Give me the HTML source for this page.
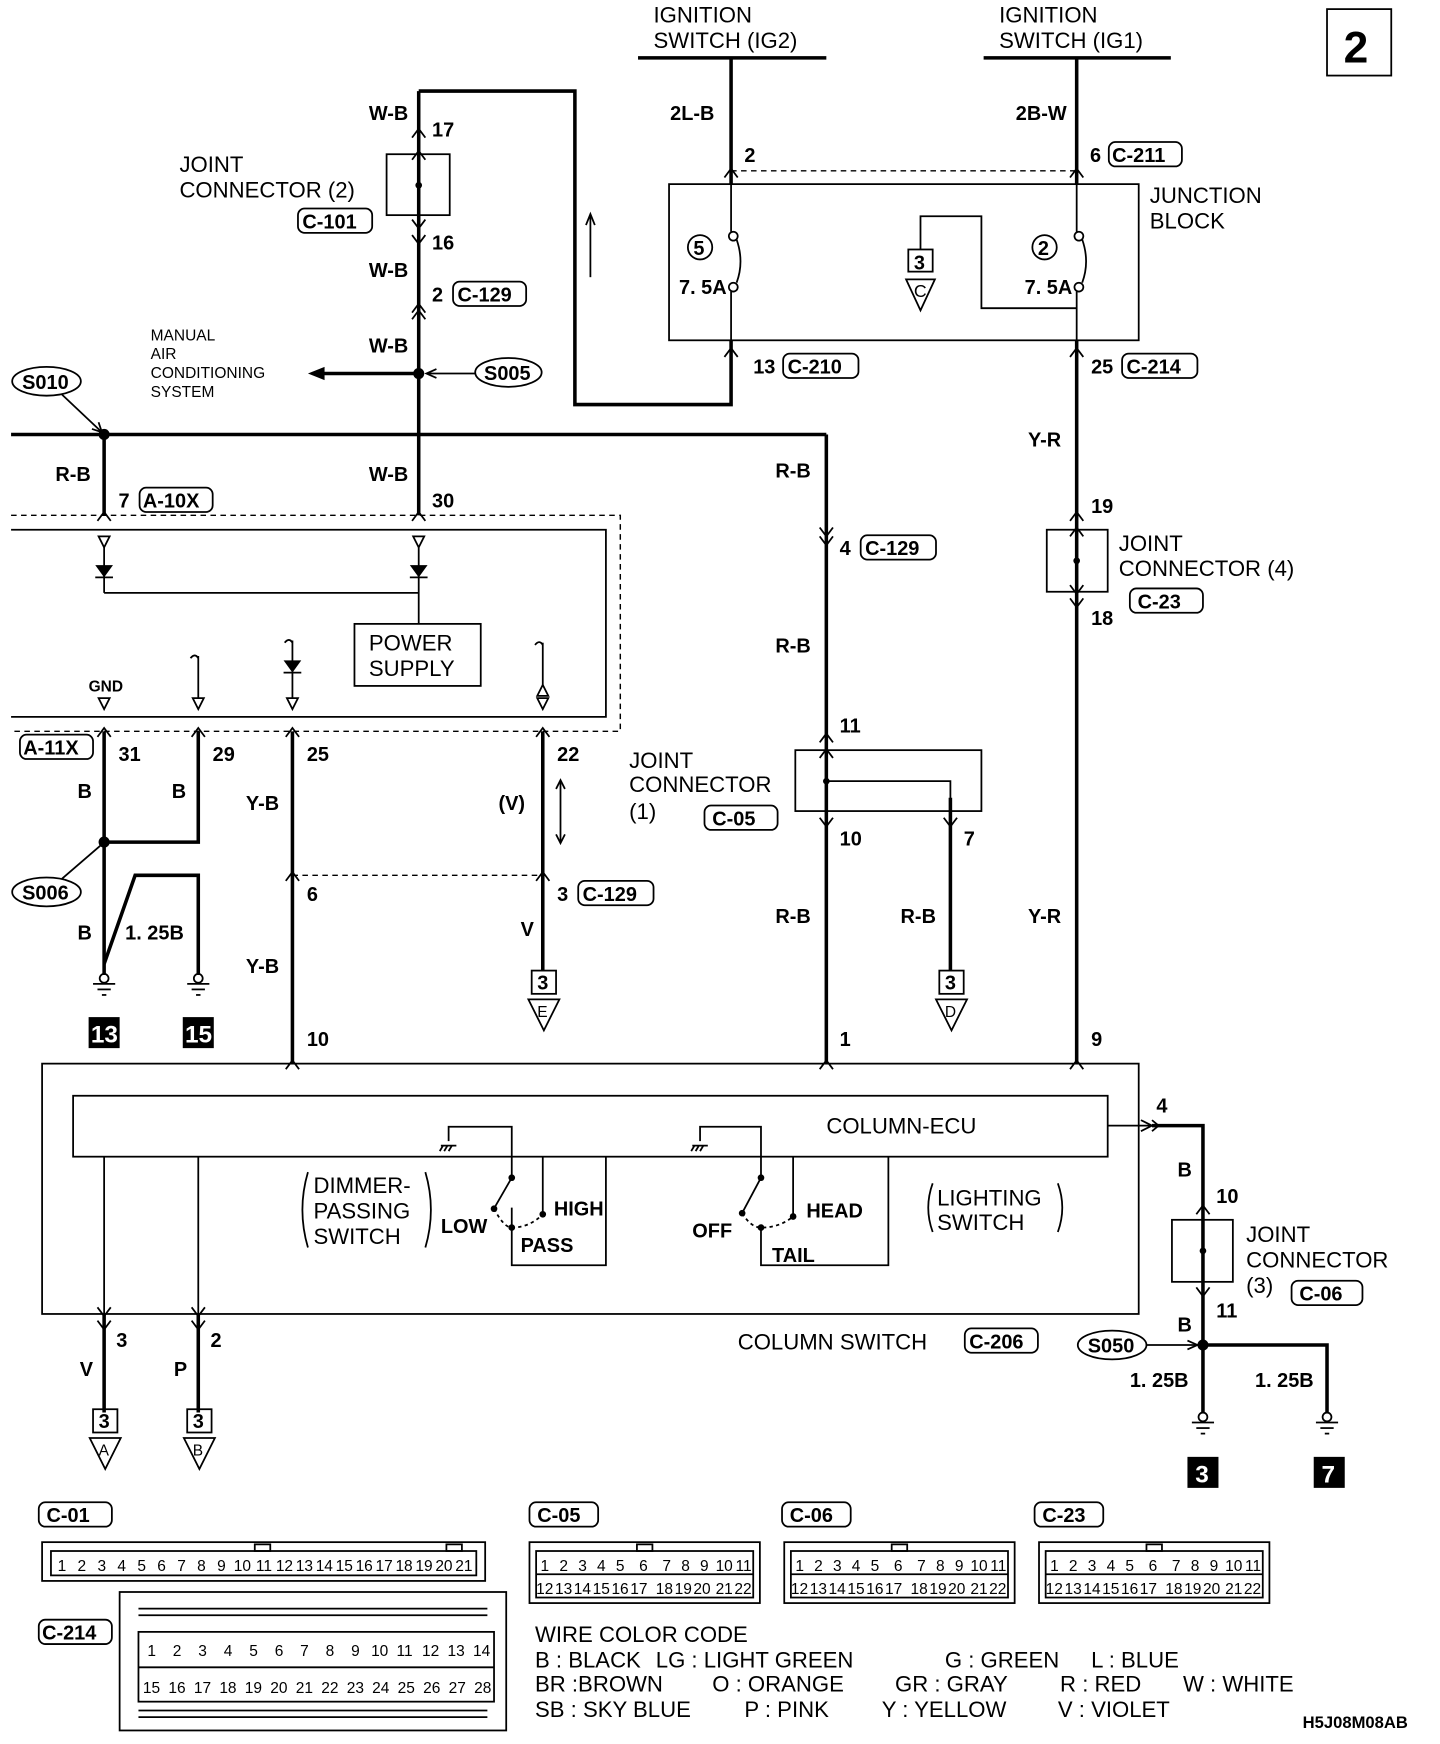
<!DOCTYPE html>
<html><head><meta charset="utf-8"><style>
html,body{margin:0;padding:0;background:#fff}
svg{display:block}
text{font-family:"Liberation Sans",sans-serif;fill:#000}
.t{font-size:20px}
.b{font-size:18px;font-weight:bold}
.s{font-size:16px}
.w{stroke:#000;stroke-width:3.2;fill:none}
.l{stroke:#000;stroke-width:1.6;fill:none}
.d{stroke:#000;stroke-width:1.3;fill:none;stroke-dasharray:5 4}
.c{font-size:14px}
</style></head><body>
<svg width="1440" height="1744" viewBox="0 0 1300 1574" xmlns="http://www.w3.org/2000/svg">
<text class="t" x="590" y="20">IGNITION</text><text class="t" x="590" y="43">SWITCH (IG2)</text>
<line x1="576" y1="52" x2="746" y2="52" class="w"/>
<text class="t" x="902" y="20">IGNITION</text><text class="t" x="902" y="43">SWITCH (IG1)</text>
<line x1="888" y1="52" x2="1057" y2="52" class="w"/>
<rect x="1198" y="8" width="58" height="60" class="l" stroke-width="2"/>
<text x="1213" y="56" style="font-size:40px;font-weight:bold">2</text>

<polyline points="378,82 519,82 519,365 660,365 660,307" class="w"/>
<line x1="660" y1="52" x2="660" y2="166" class="w"/>
<line x1="533" y1="250" x2="533" y2="195" class="l"/><path d="M529,203 L533,193 L537,203" class="l"/>
<text class="b" x="605" y="108">2L-B</text>
<text class="b" x="672" y="146">2</text>
<text class="b" x="917" y="108">2B-W</text>
<text class="b" x="984" y="146">6</text>
<rect x="1001" y="128" width="66" height="22" rx="6" class="l"/><text class="b" x="1004" y="146">C-211</text>
<line x1="660" y1="154" x2="972" y2="154" class="d"/>
<rect x="604" y="166" width="424" height="141" class="l"/>
<text class="t" x="1038" y="183">JUNCTION</text><text class="t" x="1038" y="206">BLOCK</text>
<circle cx="632" cy="223" r="11" class="l"/><text class="b" x="626" y="230">5</text>
<circle cx="943" cy="223" r="11" class="l"/><text class="b" x="937" y="230">2</text>
<g class="l">
<line x1="660" y1="166" x2="660" y2="209"/><circle cx="662" cy="213" r="4"/><path d="M665,216 Q672,236 665,255"/><circle cx="662" cy="259" r="4"/><line x1="660" y1="263" x2="660" y2="307"/>
<line x1="972" y1="166" x2="972" y2="209"/><circle cx="974" cy="213" r="4"/><path d="M977,216 Q984,236 977,255"/><circle cx="974" cy="259" r="4"/><line x1="972" y1="263" x2="972" y2="307"/>
</g>
<text class="b" x="613" y="265">7. 5A</text><text class="b" x="925" y="265">7. 5A</text>
<rect x="820" y="225" width="22" height="20" class="l"/><text class="b" x="825" y="243">3</text>
<path d="M818,252 L844,252 L831,280 Z" class="l"/><text class="s" x="825" y="268">C</text>
<polyline points="831,225 831,195 886,195 886,278 972,278" class="l"/>
<path d="M654,160 L660,152 L666,160 M966,160 L972,152 L978,160 M654,322 L660,314 L666,322 M966,322 L972,314 L978,322" class="l"/>
<text class="b" x="680" y="337">13</text><rect x="707" y="319" width="68" height="22" rx="6" class="l"/><text class="b" x="711" y="337">C-210</text>
<text class="b" x="985" y="337">25</text><rect x="1013" y="319" width="68" height="22" rx="6" class="l"/><text class="b" x="1017" y="337">C-214</text>

<line x1="972" y1="52" x2="972" y2="166" class="w"/>
<line x1="972" y1="307" x2="972" y2="960" class="w"/>
<text class="b" x="928" y="403">Y-R</text>
<text class="b" x="985" y="463">19</text>
<rect x="945" y="478" width="55" height="56" class="l"/>
<circle cx="972" cy="506" r="3"/>
<path d="M966,470 L972,462 L978,470 M966,484 L972,476 L978,484 M966,540 L972,548 L978,540 M966,528 L972,536 L978,528" class="l"/>
<text class="t" x="1010" y="497">JOINT</text><text class="t" x="1010" y="520">CONNECTOR (4)</text>
<rect x="1020" y="531" width="66" height="22" rx="6" class="l"/><text class="b" x="1027" y="549">C-23</text>
<text class="b" x="985" y="564">18</text>
<text class="b" x="928" y="833">Y-R</text>
<text class="b" x="985" y="944">9</text>

<line x1="378" y1="82" x2="378" y2="465" class="w"/>
<text class="b" x="333" y="108">W-B</text>
<text class="b" x="390" y="123">17</text>
<rect x="349" y="139" width="57" height="55" class="l"/><circle cx="378" cy="167" r="3"/>
<text class="t" x="162" y="155">JOINT</text><text class="t" x="162" y="178">CONNECTOR (2)</text>
<rect x="269" y="188" width="67" height="22" rx="6" class="l"/><text class="b" x="273" y="206">C-101</text>
<text class="b" x="390" y="225">16</text>
<text class="b" x="333" y="250">W-B</text>
<text class="b" x="390" y="272">2</text><rect x="409" y="254" width="66" height="22" rx="6" class="l"/><text class="b" x="413" y="272">C-129</text>
<text class="b" x="333" y="318">W-B</text>
<circle cx="378" cy="337" r="5"/>
<line x1="378" y1="337" x2="290" y2="337" class="w" stroke-width="4"/><path d="M278,337 L293,331 L293,343 Z"/>
<text class="c" x="136" y="307">MANUAL</text><text class="c" x="136" y="324">AIR</text><text class="c" x="136" y="341">CONDITIONING</text><text class="c" x="136" y="358">SYSTEM</text>
<ellipse cx="459" cy="336" rx="30" ry="13" class="l" stroke-width="2"/><text class="b" x="437" y="343">S005</text>
<line x1="429" y1="337" x2="386" y2="337" class="l"/><path d="M394,333 L385,337 L394,341" class="l"/>
<line x1="10" y1="392" x2="746" y2="392" class="w"/>
<line x1="746" y1="392" x2="746" y2="960" class="w"/>
<circle cx="94" cy="392" r="5"/>
<ellipse cx="42" cy="344" rx="31" ry="13" class="l" stroke-width="2"/><text class="b" x="20" y="351">S010</text>
<line x1="56" y1="356" x2="92" y2="390" class="l"/><path d="M83,387 L92,390 L89,381" class="l"/>
<line x1="94" y1="392" x2="94" y2="465" class="w"/>
<text class="b" x="50" y="434">R-B</text>
<text class="b" x="107" y="458">7</text><rect x="126" y="440" width="66" height="22" rx="6" class="l"/><text class="b" x="129" y="458">A-10X</text>
<text class="b" x="333" y="434">W-B</text><text class="b" x="390" y="458">30</text>
<path d="M88,470 L94,462 L100,470 M372,470 L378,462 L384,470 M372,124 L378,116 L384,124 M372,144 L378,136 L384,144 M372,198 L378,206 L384,198 M372,212 L378,220 L384,212 M372,282 L378,274 L384,282 M372,288 L378,280 L384,288" class="l"/>

<polyline points="10,465 560,465 560,660 10,660" class="d"/>
<polyline points="10,478 547,478 547,647 10,647" class="l"/>
<path d="M89,484 L99,484 L94,494 Z M373,484 L383,484 L378,494 Z" class="l"/>
<line x1="94" y1="494" x2="94" y2="535" class="l"/><line x1="378" y1="494" x2="378" y2="563" class="l"/>
<path d="M86,510 L102,510 L94,521 Z M370,510 L386,510 L378,521 Z"/>
<line x1="86" y1="521" x2="102" y2="521" class="l"/><line x1="370" y1="521" x2="386" y2="521" class="l"/>
<line x1="94" y1="535" x2="378" y2="535" class="l"/>
<rect x="320" y="563" width="114" height="56" class="l"/>
<text class="t" x="333" y="587">POWER</text><text class="t" x="333" y="610">SUPPLY</text>
<text class="c" x="80" y="624" font-weight="bold">GND</text>
<path d="M89,630 L99,630 L94,640 Z M174,630 L184,630 L179,640 Z M259,630 L269,630 L264,640 Z M485,630 L495,630 L490,640 Z M485,628 L495,628 L490,618 Z" class="l"/>
<line x1="179" y1="592" x2="179" y2="630" class="l"/><line x1="264" y1="578" x2="264" y2="630" class="l"/><line x1="490" y1="580" x2="490" y2="618" class="l"/>
<path d="M172,594 q4,-5 7,0 M257,580 q4,-5 7,0 M483,582 q4,-5 7,0" class="l"/>
<path d="M256,596 L272,596 L264,607 Z"/><line x1="256" y1="607" x2="272" y2="607" class="l"/>
<rect x="18" y="663" width="66" height="22" rx="6" class="l"/><text class="b" x="21" y="681">A-11X</text>
<text class="b" x="107" y="687">31</text><text class="b" x="192" y="687">29</text><text class="b" x="277" y="687">25</text><text class="b" x="503" y="687">22</text>
<path d="M88,665 L94,657 L100,665 M173,665 L179,657 L185,665 M258,665 L264,657 L270,665 M484,665 L490,657 L496,665" class="l"/>
<polyline points="94,660 94,880" class="w"/>
<polyline points="179,660 179,760 94,760" class="w"/>
<polyline points="94,870 122,790 179,790 179,880" class="w"/>
<circle cx="94" cy="760" r="5"/>
<text class="b" x="70" y="720">B</text><text class="b" x="155" y="720">B</text>
<ellipse cx="42" cy="805" rx="31" ry="13" class="l" stroke-width="2"/><text class="b" x="20" y="812">S006</text>
<line x1="56" y1="793" x2="92" y2="762" class="l"/>
<text class="b" x="70" y="848">B</text><text class="b" x="113" y="848">1. 25B</text>
<g class="l"><circle cx="94" cy="883" r="4"/><line x1="84" y1="888" x2="104" y2="888"/><line x1="88" y1="893" x2="100" y2="893"/><line x1="92" y1="898" x2="96" y2="898"/>
<circle cx="179" cy="883" r="4"/><line x1="169" y1="888" x2="189" y2="888"/><line x1="173" y1="893" x2="185" y2="893"/><line x1="177" y1="898" x2="181" y2="898"/></g>
<rect x="80" y="918" width="28" height="28"/><text x="82" y="941" style="font-size:22px;font-weight:bold;fill:#fff">13</text>
<rect x="165" y="918" width="28" height="28"/><text x="167" y="941" style="font-size:22px;font-weight:bold;fill:#fff">15</text>
<line x1="264" y1="660" x2="264" y2="960" class="w"/>
<text class="b" x="222" y="731">Y-B</text><text class="b" x="222" y="878">Y-B</text>
<text class="b" x="277" y="813">6</text><text class="b" x="277" y="944">10</text>
<line x1="264" y1="790" x2="490" y2="790" class="d"/>
<line x1="490" y1="660" x2="490" y2="876" class="w"/>
<text class="b" x="450" y="731">(V)</text>
<line x1="506" y1="705" x2="506" y2="760" class="l"/><path d="M502,712 L506,704 L510,712 M502,753 L506,761 L510,753" class="l"/>
<text class="b" x="503" y="813">3</text><rect x="522" y="795" width="68" height="22" rx="6" class="l"/><text class="b" x="526" y="813">C-129</text>
<text class="b" x="470" y="845">V</text>
<rect x="480" y="876" width="22" height="21" class="l" stroke-width="2"/><text class="b" x="485" y="893">3</text>
<path d="M477,902 L505,902 L491,930 Z" class="l"/><text class="c" x="485" y="918">E</text>
<path d="M258,795 L264,787 L270,795 M484,795 L490,787 L496,795 M258,965 L264,957 L270,965 M740,965 L746,957 L752,965 M966,965 L972,957 L978,965" class="l"/>
<text class="b" x="700" y="431">R-B</text>
<text class="b" x="758" y="501">4</text><rect x="777" y="483" width="68" height="22" rx="6" class="l"/><text class="b" x="781" y="501">C-129</text>
<path d="M740,476 L746,484 L752,476 M740,484 L746,492 L752,484" class="l"/>
<text class="b" x="700" y="589">R-B</text>
<text class="b" x="758" y="661">11</text>
<rect x="718" y="677" width="168" height="55" class="l"/>
<polyline points="746,705 858,705 858,876" class="l"/><line x1="858" y1="720" x2="858" y2="876" class="w"/>
<circle cx="746" cy="705" r="3"/>
<path d="M740,670 L746,662 L752,670 M740,684 L746,676 L752,684 M740,738 L746,746 L752,738 M852,738 L858,746 L864,738" class="l"/>
<text class="t" x="568" y="693">JOINT</text><text class="t" x="568" y="715">CONNECTOR</text><text class="t" x="568" y="739">(1)</text>
<rect x="636" y="727" width="66" height="22" rx="6" class="l"/><text class="b" x="643" y="745">C-05</text>
<text class="b" x="758" y="763">10</text><text class="b" x="870" y="763">7</text>
<text class="b" x="700" y="833">R-B</text><text class="b" x="813" y="833">R-B</text>
<rect x="848" y="876" width="22" height="21" class="l" stroke-width="2"/><text class="b" x="853" y="893">3</text>
<path d="M845,902 L873,902 L859,930 Z" class="l"/><text class="c" x="853" y="918">D</text>
<text class="b" x="758" y="944">1</text>

<rect x="38" y="960" width="990" height="226" class="l"/>
<rect x="66" y="989" width="934" height="55" class="l"/>
<text class="t" x="746" y="1023">COLUMN-ECU</text>
<line x1="94" y1="1044" x2="94" y2="1275" class="l"/><line x1="179" y1="1044" x2="179" y2="1275" class="l"/>
<line x1="94" y1="1186" x2="94" y2="1275" class="w"/><line x1="179" y1="1186" x2="179" y2="1275" class="w"/>
<path d="M88,1192 L94,1200 L100,1192 M173,1192 L179,1200 L185,1192 M88,1180 L94,1188 L100,1180 M173,1180 L179,1188 L185,1180" class="l"/>
<text class="b" x="105" y="1216">3</text><text class="b" x="190" y="1216">2</text>
<text class="b" x="72" y="1242">V</text><text class="b" x="157" y="1242">P</text>
<rect x="84" y="1272" width="22" height="21" class="l" stroke-width="2"/><text class="b" x="89" y="1289">3</text>
<path d="M81,1298 L109,1298 L95,1326 Z" class="l"/><text class="c" x="89" y="1314">A</text>
<rect x="169" y="1272" width="22" height="21" class="l" stroke-width="2"/><text class="b" x="174" y="1289">3</text>
<path d="M166,1298 L194,1298 L180,1326 Z" class="l"/><text class="c" x="174" y="1314">B</text>
<!-- dimmer switch -->
<polyline points="405,1030 405,1017 462,1017 462,1063" class="l"/>
<path d="M398,1034 L412,1034 M400,1034 L397,1039 M404,1034 L401,1039 M408,1034 L405,1039" class="l"/>
<polyline points="490,1044 490,1096" class="l"/>
<polyline points="462,1090 462,1142 547,1142 547,1044" class="l"/>
<line x1="462" y1="1063" x2="447" y2="1089" class="l" stroke-width="2"/>
<circle cx="462" cy="1063" r="3"/><circle cx="446" cy="1091" r="3"/><circle cx="462" cy="1108" r="3"/><circle cx="490" cy="1096" r="3"/>
<path d="M446,1091 Q455,1108 462,1108 Q478,1108 490,1096" class="l" stroke-dasharray="3 3"/>
<text class="t" x="283" y="1077">DIMMER-</text><text class="t" x="283" y="1100">PASSING</text><text class="t" x="283" y="1123">SWITCH</text>
<path d="M278,1058 Q268,1092 278,1126 M384,1058 Q394,1092 384,1126" class="l"/>
<text class="b" x="398" y="1113">LOW</text><text class="b" x="500" y="1097">HIGH</text><text class="b" x="470" y="1130">PASS</text>
<!-- lighting switch -->
<polyline points="632,1030 632,1017 687,1017 687,1063" class="l"/>
<path d="M625,1034 L639,1034 M627,1034 L624,1039 M631,1034 L628,1039 M635,1034 L632,1039" class="l"/>
<line x1="716" y1="1044" x2="716" y2="1098" class="l"/>
<polyline points="687,1108 687,1142 802,1142 802,1044" class="l"/>
<line x1="687" y1="1063" x2="671" y2="1093" class="l" stroke-width="2"/>
<circle cx="687" cy="1063" r="3"/><circle cx="670" cy="1095" r="3"/><circle cx="687" cy="1108" r="3"/><circle cx="716" cy="1098" r="3"/>
<path d="M670,1095 Q678,1108 687,1108 Q704,1108 716,1098" class="l" stroke-dasharray="3 3"/>
<text class="b" x="625" y="1117">OFF</text><text class="b" x="728" y="1099">HEAD</text><text class="b" x="697" y="1139">TAIL</text>
<path d="M842,1068 Q834,1090 842,1112 M955,1068 Q963,1090 955,1112" class="l"/>
<text class="t" x="846" y="1088">LIGHTING</text><text class="t" x="846" y="1110">SWITCH</text>
<text class="t" x="666" y="1218">COLUMN SWITCH</text>
<rect x="871" y="1199" width="66" height="22" rx="6" class="l"/><text class="b" x="875" y="1217">C-206</text>
<line x1="1000" y1="1016" x2="1040" y2="1016" class="l"/><path d="M1030,1011 L1040,1016 L1030,1021" class="l"/>
<polyline points="1040,1016 1086,1016 1086,1275" class="w"/>
<path d="M1040,1011 L1046,1016 L1040,1021" class="l"/>
<text class="b" x="1044" y="1004">4</text>
<text class="b" x="1063" y="1062">B</text>
<text class="b" x="1098" y="1086">10</text>
<rect x="1058" y="1101" width="55" height="56" class="l"/><circle cx="1086" cy="1129" r="3"/>
<path d="M1080,1096 L1086,1088 L1092,1096 M1080,1162 L1086,1170 L1092,1162" class="l"/>
<text class="t" x="1125" y="1121">JOINT</text><text class="t" x="1125" y="1144">CONNECTOR</text><text class="t" x="1125" y="1167">(3)</text>
<rect x="1166" y="1156" width="64" height="22" rx="6" class="l"/><text class="b" x="1173" y="1174">C-06</text>
<text class="b" x="1098" y="1189">11</text><text class="b" x="1063" y="1202">B</text>
<circle cx="1086" cy="1214" r="5"/>
<polyline points="1086,1214 1198,1214 1198,1275" class="w"/>
<ellipse cx="1004" cy="1214" rx="31" ry="13" class="l" stroke-width="2"/><text class="b" x="982" y="1221">S050</text>
<line x1="1035" y1="1214" x2="1080" y2="1214" class="l"/><path d="M1072,1210 L1081,1214 L1072,1218" class="l"/>
<text class="b" x="1020" y="1252">1. 25B</text><text class="b" x="1133" y="1252">1. 25B</text>
<g class="l"><circle cx="1086" cy="1279" r="4"/><line x1="1076" y1="1284" x2="1096" y2="1284"/><line x1="1080" y1="1289" x2="1092" y2="1289"/><line x1="1084" y1="1294" x2="1088" y2="1294"/>
<circle cx="1198" cy="1279" r="4"/><line x1="1188" y1="1284" x2="1208" y2="1284"/><line x1="1192" y1="1289" x2="1204" y2="1289"/><line x1="1196" y1="1294" x2="1200" y2="1294"/></g>
<rect x="1072" y="1315" width="28" height="28"/><text x="1079" y="1338" style="font-size:22px;font-weight:bold;fill:#fff">3</text>
<rect x="1186" y="1315" width="28" height="28"/><text x="1193" y="1338" style="font-size:22px;font-weight:bold;fill:#fff">7</text>

<rect x="35" y="1356" width="66" height="22" rx="6" class="l"/><text class="b" x="42" y="1374">C-01</text>
<rect x="38" y="1392" width="400" height="35" class="l" stroke-width="2"/>
<rect x="46" y="1400" width="384" height="22" class="l"/>
<g class="c">
<text x="52" y="1418">1</text><text x="70" y="1418">2</text><text x="88" y="1418">3</text><text x="106" y="1418">4</text><text x="124" y="1418">5</text><text x="142" y="1418">6</text><text x="160" y="1418">7</text><text x="178" y="1418">8</text><text x="196" y="1418">9</text><text x="211" y="1418">10</text><text x="231" y="1418">11</text><text x="249" y="1418">12</text><text x="267" y="1418">13</text><text x="285" y="1418">14</text><text x="303" y="1418">15</text><text x="321" y="1418">16</text><text x="339" y="1418">17</text><text x="357" y="1418">18</text><text x="375" y="1418">19</text><text x="393" y="1418">20</text><text x="411" y="1418">21</text>
</g>
<rect x="230" y="1394" width="14" height="6" class="l"/><rect x="403" y="1394" width="14" height="6" class="l"/>
<rect x="35" y="1462" width="66" height="22" rx="6" class="l"/><text class="b" x="38" y="1480">C-214</text>
<rect x="108" y="1437" width="349" height="125" class="l" stroke-width="2"/>
<rect x="125" y="1473" width="321" height="63" class="l"/>
<line x1="125" y1="1505" x2="446" y2="1505" class="l"/>
<g class="c">
<text x="133" y="1495">1</text><text x="156" y="1495">2</text><text x="179" y="1495">3</text><text x="202" y="1495">4</text><text x="225" y="1495">5</text><text x="248" y="1495">6</text><text x="271" y="1495">7</text><text x="294" y="1495">8</text><text x="317" y="1495">9</text><text x="335" y="1495">10</text><text x="358" y="1495">11</text><text x="381" y="1495">12</text><text x="404" y="1495">13</text><text x="427" y="1495">14</text>
<text x="129" y="1528">15</text><text x="152" y="1528">16</text><text x="175" y="1528">17</text><text x="198" y="1528">18</text><text x="221" y="1528">19</text><text x="244" y="1528">20</text><text x="267" y="1528">21</text><text x="290" y="1528">22</text><text x="313" y="1528">23</text><text x="336" y="1528">24</text><text x="359" y="1528">25</text><text x="382" y="1528">26</text><text x="405" y="1528">27</text><text x="428" y="1528">28</text>
</g>
<line x1="125" y1="1452" x2="440" y2="1452" class="l"/><line x1="125" y1="1458" x2="440" y2="1458" class="l"/>
<line x1="125" y1="1550" x2="440" y2="1550" class="l"/><line x1="125" y1="1544" x2="440" y2="1544" class="l"/>

<g id="c22">
<rect x="478" y="1392" width="208" height="55" class="l" stroke-width="2"/>
<rect x="484" y="1400" width="196" height="42" class="l"/>
<line x1="484" y1="1421" x2="680" y2="1421" class="l"/>
<g class="c">
<text x="488" y="1418">1</text><text x="505" y="1418">2</text><text x="522" y="1418">3</text><text x="539" y="1418">4</text><text x="556" y="1418">5</text><text x="577" y="1418">6</text><text x="598" y="1418">7</text><text x="615" y="1418">8</text><text x="632" y="1418">9</text><text x="646" y="1418">10</text><text x="664" y="1418">11</text>
<text x="484" y="1439">12</text><text x="501" y="1439">13</text><text x="518" y="1439">14</text><text x="535" y="1439">15</text><text x="552" y="1439">16</text><text x="569" y="1439">17</text><text x="592" y="1439">18</text><text x="609" y="1439">19</text><text x="626" y="1439">20</text><text x="646" y="1439">21</text><text x="663" y="1439">22</text>
</g>
<rect x="575" y="1394" width="14" height="6" class="l"/>
</g>
<use href="#c22" x="230"/><use href="#c22" x="460"/>
<rect x="478" y="1356" width="62" height="22" rx="6" class="l"/><text class="b" x="485" y="1374">C-05</text>
<rect x="706" y="1356" width="62" height="22" rx="6" class="l"/><text class="b" x="713" y="1374">C-06</text>
<rect x="934" y="1356" width="62" height="22" rx="6" class="l"/><text class="b" x="941" y="1374">C-23</text>

<text class="t" x="483" y="1482">WIRE COLOR CODE</text>
<text class="t" x="483" y="1505">B : BLACK</text><text class="t" x="592" y="1505">LG : LIGHT GREEN</text><text class="t" x="853" y="1505">G : GREEN</text><text class="t" x="985" y="1505">L : BLUE</text>
<text class="t" x="483" y="1527">BR :BROWN</text><text class="t" x="643" y="1527">O : ORANGE</text><text class="t" x="808" y="1527">GR : GRAY</text><text class="t" x="957" y="1527">R : RED</text><text class="t" x="1068" y="1527">W : WHITE</text>
<text class="t" x="483" y="1550">SB : SKY BLUE</text><text class="t" x="672" y="1550">P : PINK</text><text class="t" x="796" y="1550">Y : YELLOW</text><text class="t" x="955" y="1550">V : VIOLET</text>
<text class="b" x="1176" y="1560" style="font-size:15px">H5J08M08AB</text>
</svg>
</body></html>
